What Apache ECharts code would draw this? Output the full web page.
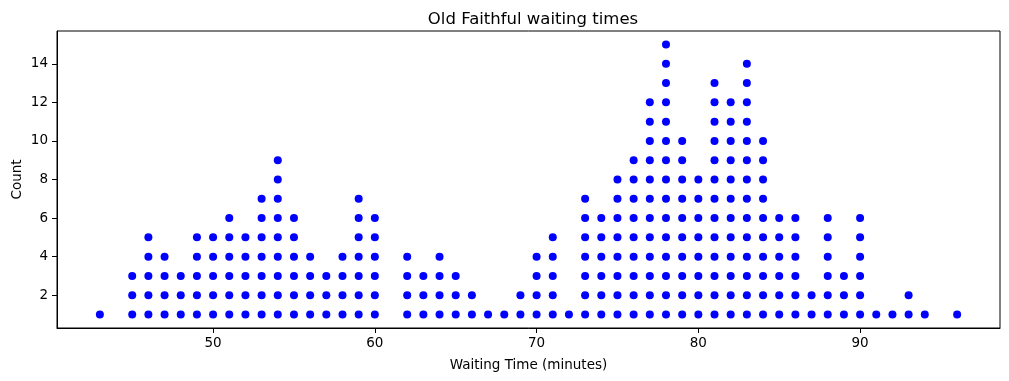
<!DOCTYPE html>
<html>
<head>
<meta charset="utf-8">
<script src="https://cdn.jsdelivr.net/npm/echarts@6/dist/echarts.min.js"></script>
<style>
html,body{margin:0;padding:0;background:#fff;}
#chart{width:1009px;height:381px;}
</style>
</head>
<body>
<div id="chart"></div>
<script>
var waitTimes = [43,45,46,47,48,49,50,51,52,53,54,55,56,57,58,59,60,62,63,64,65,66,67,68,69,70,71,72,73,74,75,76,77,78,79,80,81,82,83,84,85,86,87,88,89,90,91,92,93,94,96];
var counts    = [1,3,5,4,3,5,5,6,5,7,9,6,4,3,4,7,6,4,3,4,3,2,1,1,2,4,5,1,7,6,8,9,12,15,10,8,13,12,14,10,6,6,2,6,3,6,1,1,2,1,1];
var xTicks = [50,60,70,80,90];
var yTicks = [2,4,6,8,10,12,14];

var points = [];
waitTimes.forEach(function(w, i){
  for (var k = 1; k <= counts[i]; k++) points.push([w, k]);
});

var font = 'DejaVu Sans';
var chart = echarts.init(document.getElementById('chart'), null, {renderer:'canvas'});
chart.setOption({
  animation: false,
  backgroundColor: '#fff',
  title: {
    text: 'Old Faithful waiting times',
    left: 528, top: 6, textAlign: 'center',
    textStyle: {fontFamily: font, fontSize: 16.5, fontWeight: 'normal', color: '#000'}
  },
  grid: {left: 57, right: 9, top: 31, bottom: 53, containLabel: false, outerBoundsMode: 'none', show: true, borderColor: '#000', borderWidth: 1, backgroundColor: 'transparent'},
  xAxis: {
    type: 'value', min: 40.35, max: 98.65,
    name: 'Waiting Time (minutes)', nameLocation: 'middle', nameGap: 30, nameMoveOverlap: false,
    nameTextStyle: {fontFamily: font, fontSize: 13.5, color: '#000'},
    axisLine: {show: true, onZero: false, lineStyle: {color: '#000', width: 1}},
    axisTick: {show: true, length: 5, customValues: xTicks, lineStyle: {color: '#000'}},
    axisLabel: {customValues: xTicks, fontFamily: font, fontSize: 13.5, color: '#000', margin: 8},
    splitLine: {show: false}
  },
  yAxis: {
    type: 'value', min: 0.3, max: 15.7,
    name: 'Count', nameLocation: 'middle', nameGap: 33, nameRotate: 90, nameMoveOverlap: false,
    nameTextStyle: {fontFamily: font, fontSize: 13.5, color: '#000'},
    axisLine: {show: true, onZero: false, lineStyle: {color: '#000', width: 1}},
    axisTick: {show: true, length: 5, customValues: yTicks, lineStyle: {color: '#000'}},
    axisLabel: {customValues: yTicks, fontFamily: font, fontSize: 13.5, color: '#000', margin: 9},
    splitLine: {show: false}
  },
  series: [{
    type: 'scatter',
    data: points,
    symbol: 'circle',
    symbolSize: 8,
    itemStyle: {color: '#0000ff', opacity: 1}
  }]
});
</script>
</body>
</html>
